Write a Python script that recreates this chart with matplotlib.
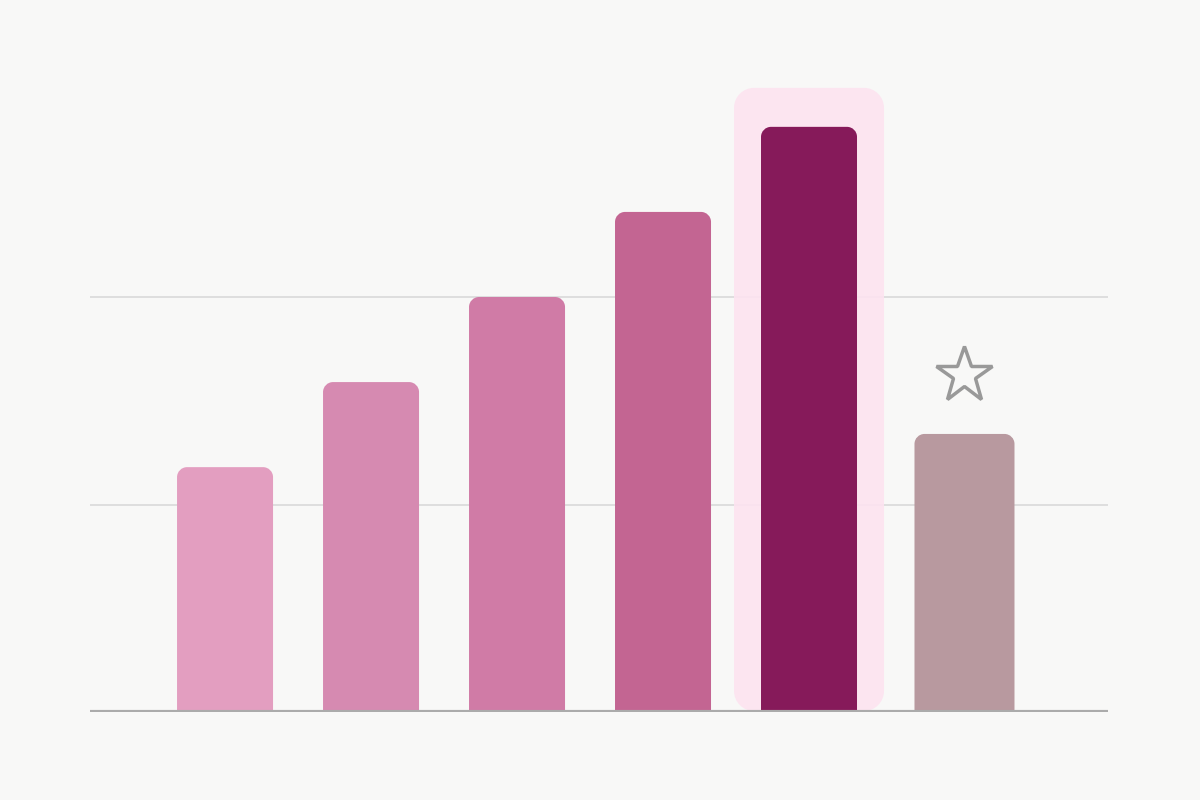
import numpy as np
import matplotlib
matplotlib.use("Agg")
import matplotlib.pyplot as plt
from matplotlib.path import Path
from matplotlib.patches import PathPatch, FancyBboxPatch

# data
categories = ["A", "B", "C", "D", "E", "F"]
values = [59, 79.5, 100, 120.5, 141, 67]
colors = ["#E39EC0", "#D68AB1", "#D07BA6", "#C36592", "#861A5A", "#B8999F"]
highlight = 4      # the dark bar with the pink halo
starred = 5        # the grey bar with the star above it
grid_values = [50, 100]

bg = "#F8F8F7"
W, H, DPI = 12, 8, 100

fig = plt.figure(figsize=(W, H), dpi=DPI, facecolor=bg)
# axes in pixels: x 90..1108, y 80..712 (from top)
ax = fig.add_axes([90 / 1200, (800 - 712) / 800, (1108 - 90) / 1200, (712 - 80) / 800])
ax.set_facecolor(bg)
ax.set_xlim(-0.925, 6.048)
ax.set_ylim(0, 632 / 207.5 * 50)
for s in ax.spines.values():
    s.set_visible(False)
ax.set_xticks([])
ax.set_yticks([])

# pixels per data unit
px_x = 1018 / (6.048 + 0.925)
px_y = 632 / ax.get_ylim()[1]

x = np.arange(len(values), dtype=float)
x[starred] += 0.065
widths = [96 / px_x] * len(values)
widths[starred] = 100 / px_x


def rounded_rect(x0, y0, w, h, r_px, top_only=True, **kw):
    rx, ry = r_px / px_x, r_px / px_y
    k = 0.5523
    x1, y1 = x0 + w, y0 + h
    verts = []
    codes = []
    if top_only:
        verts += [(x0, y0), (x1, y0)]
        codes += [Path.MOVETO, Path.LINETO]
    else:
        verts += [(x0 + rx, y0), (x1 - rx, y0),
                  (x1 - rx + k * rx, y0), (x1, y0 + ry - k * ry), (x1, y0 + ry)]
        codes += [Path.MOVETO, Path.LINETO, Path.CURVE4, Path.CURVE4, Path.CURVE4]
    verts += [(x1, y1 - ry), (x1, y1 - ry + k * ry), (x1 - rx + k * rx, y1), (x1 - rx, y1),
              (x0 + rx, y1), (x0 + rx - k * rx, y1), (x0, y1 - ry + k * ry), (x0, y1 - ry)]
    codes += [Path.LINETO, Path.CURVE4, Path.CURVE4, Path.CURVE4,
              Path.LINETO, Path.CURVE4, Path.CURVE4, Path.CURVE4]
    if top_only:
        verts += [(x0, y0), (x0, y0)]
        codes += [Path.LINETO, Path.CLOSEPOLY]
    else:
        verts += [(x0, y0 + ry), (x0, y0 + ry - k * ry), (x0 + rx - k * rx, y0), (x0 + rx, y0), (x0 + rx, y0)]
        codes += [Path.LINETO, Path.CURVE4, Path.CURVE4, Path.CURVE4, Path.CLOSEPOLY]
    return PathPatch(Path(verts, codes), **kw)


# gridlines
for g in grid_values:
    ax.axhline(g, color="#DCDCDC", lw=1.3, zorder=1)

# halo behind highlighted bar
hx0 = x[highlight] - widths[highlight] / 2 - 27 / px_x
hw = widths[highlight] + 54 / px_x
hh = values[highlight] + 39 / px_y
ax.add_patch(rounded_rect(hx0, 1 / px_y, hw, hh - 1 / px_y, 20, top_only=False,
                          facecolor="#FDE3F0", edgecolor="none", alpha=0.9,
                          zorder=2, clip_on=False))

# bars
for xi, w, v, c in zip(x, widths, values, colors):
    ax.add_patch(rounded_rect(xi - w / 2, 0, w, v, 10, facecolor=c,
                              edgecolor="none", zorder=3, clip_on=False))

# baseline
ax.axhline(0, color="#ABABAB", lw=3, zorder=4, solid_capstyle="butt")

# star marker above the starred bar
ax.plot(x[starred], values[starred] + 59 / px_y, marker="*", markersize=42,
        markerfacecolor="none", markeredgecolor="#999999", markeredgewidth=2.5,
        zorder=5, clip_on=False)

fig.savefig("out.png", dpi=DPI, facecolor=bg)
